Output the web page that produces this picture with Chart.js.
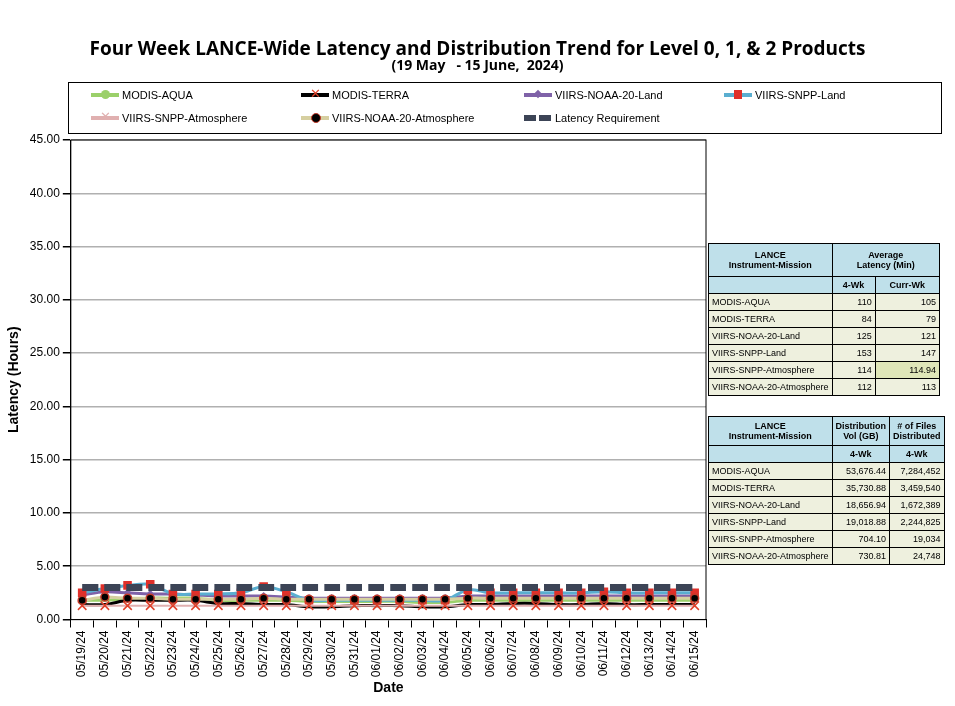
<!DOCTYPE html>
<html><head><meta charset="utf-8">
<script src="https://cdn.jsdelivr.net/npm/chart.js@4"></script>
<style>
body{margin:0;width:955px;height:706px;background:#fff;font-family:Calibri,Carlito,"Liberation Sans",sans-serif;position:relative;overflow:hidden}
#c{position:absolute;left:0;top:0}
.t1{position:absolute;top:35px;left:0;width:955px;text-align:center;font:bold 19px "Open Sans",sans-serif;}
.t2{position:absolute;top:55px;left:0;width:955px;text-align:center;font:bold 14px "Open Sans",sans-serif;}
#leg{position:absolute;left:68px;top:82px;width:872px;height:50px;border:1px solid #000;font:11px "Liberation Sans",sans-serif}
.li{position:absolute;display:flex;align-items:center}
.sw{width:28px;height:4px;margin-right:3px;position:relative}
table{position:absolute;border-collapse:collapse;font:9px "Liberation Sans Narrow","Liberation Sans",sans-serif;white-space:nowrap}
td{border:1px solid #000;padding:1px 3px;height:14px;background:#eef0de}
td.h{background:#bfe0ea;text-align:center;font-weight:bold}
td.n{text-align:right}
</style></head><body>
<canvas id="c" width="955" height="706"></canvas>
<div class="t1">Four Week LANCE-Wide Latency and Distribution Trend for Level 0, 1, &amp; 2 Products</div>
<div class="t2">(19 May &nbsp; - 15 June, &nbsp;2024)</div>
<div id="leg"></div>
<table id="t1" style="left:708px;top:243px;width:232px"></table>
<table id="t2" style="left:708px;top:416px;width:232px"></table>
<script>
const dates=["05/19/24","05/20/24","05/21/24","05/22/24","05/23/24","05/24/24","05/25/24","05/26/24","05/27/24","05/28/24","05/29/24","05/30/24","05/31/24","06/01/24","06/02/24","06/03/24","06/04/24","06/05/24","06/06/24","06/07/24","06/08/24","06/09/24","06/10/24","06/11/24","06/12/24","06/13/24","06/14/24","06/15/24"];
const modisAqua=[1.8,1.8,1.9,2.0,2.0,2.0,1.8,1.8,1.8,1.8,1.7,1.7,1.7,1.7,1.7,1.6,1.6,1.8,1.8,1.8,1.8,1.8,1.8,1.8,1.8,1.8,1.8,1.8];
const modisTerra=[1.4,1.4,1.8,1.8,1.8,1.8,1.5,1.5,1.4,1.4,1.2,1.2,1.3,1.3,1.3,1.2,1.2,1.4,1.4,1.5,1.5,1.4,1.4,1.5,1.4,1.4,1.4,1.4];
const noaa20Land=[2.3,2.6,2.5,2.4,2.4,2.3,2.2,2.2,2.2,2.1,2.0,2.0,2.0,2.0,2.0,2.0,2.0,2.2,2.2,2.2,2.2,2.2,2.2,2.2,2.2,2.2,2.2,2.2];
const snppLand=[2.5,2.9,3.2,3.3,2.4,2.4,2.4,2.5,3.1,2.6,1.8,1.8,1.8,1.8,1.8,1.8,1.8,2.8,2.5,2.5,2.5,2.5,2.5,2.6,2.5,2.5,2.5,2.5];
const snppAtmos=[1.3,1.3,1.3,1.3,1.3,1.3,1.3,1.3,1.3,1.3,1.3,1.3,1.3,1.3,1.3,1.3,1.3,1.3,1.3,1.3,1.3,1.3,1.3,1.3,1.3,1.3,1.3,1.3];
const noaa20Atmos=[1.8,2.1,2.0,2.0,1.9,1.9,1.9,1.9,2.0,1.9,1.9,1.9,1.9,1.9,1.9,1.9,1.9,2.0,2.0,2.0,2.0,2.0,2.0,2.0,2.0,2.0,2.0,2.0];
const requirement=dates.map(()=>3.0);
const yTicks=[0,5,10,15,20,25,30,35,40,45];
const latRows=[["MODIS-AQUA","110","105"],["MODIS-TERRA","84","79"],["VIIRS-NOAA-20-Land","125","121"],["VIIRS-SNPP-Land","153","147"],["VIIRS-SNPP-Atmosphere","114","114.94"],["VIIRS-NOAA-20-Atmosphere","112","113"]];
const distRows=[["MODIS-AQUA","53,676.44","7,284,452"],["MODIS-TERRA","35,730.88","3,459,540"],["VIIRS-NOAA-20-Land","18,656.94","1,672,389"],["VIIRS-SNPP-Land","19,018.88","2,244,825"],["VIIRS-SNPP-Atmosphere","704.10","19,034"],["VIIRS-NOAA-20-Atmosphere","730.81","24,748"]];

const series=[
 {label:"MODIS-AQUA",data:modisAqua,borderColor:"#9bd06a",pointStyle:"circle",pointBackgroundColor:"#9bd06a",pointBorderColor:"#9bd06a",pointRadius:0,w:3},
 {label:"MODIS-TERRA",data:modisTerra,borderColor:"#000",pointStyle:"cross",pointBorderColor:"#e0402a",pointRadius:0,w:3},
 {label:"VIIRS-NOAA-20-Land",data:noaa20Land,borderColor:"#7f62a8",pointStyle:"rectRot",pointBackgroundColor:"#7f62a8",pointBorderColor:"#7f62a8",pointRadius:3,w:3},
 {label:"VIIRS-SNPP-Land",data:snppLand,borderColor:"#5aaed0",pointStyle:"rect",pointBackgroundColor:"#e0302a",pointBorderColor:"#e0302a",pointRadius:5,w:3},
 {label:"VIIRS-SNPP-Atmosphere",data:snppAtmos,borderColor:"#e0b0b0",pointStyle:"crossRot",pointBorderColor:"#e0402a",pointRadius:6,w:2},
 {label:"VIIRS-NOAA-20-Atmosphere",data:noaa20Atmos,borderColor:"#d6cfa0",pointStyle:"circle",pointBackgroundColor:"#000",pointBorderColor:"#c23a2a",pointRadius:4,w:3},
 {label:"Latency Requirement",data:requirement,borderColor:"#3c4456",pointRadius:0,w:7,dash:[16,6]}
];
const datasets=series.map(s=>({label:s.label,data:s.data,borderColor:s.borderColor,borderWidth:s.w,borderDash:s.dash||[],pointStyle:s.pointStyle,pointRadius:s.pointRadius,pointBackgroundColor:s.pointBackgroundColor,pointBorderColor:s.pointBorderColor,pointBorderWidth:1.5,tension:0.3,fill:false}));
datasets.reverse();

const border={id:'b',afterDraw(c){const a=c.chartArea,x=c.ctx;x.save();x.strokeStyle='#000';x.lineWidth=1;x.strokeRect(a.left,a.top,a.right-a.left,a.bottom-a.top);x.restore();}};
new Chart(document.getElementById('c'),{type:'line',data:{labels:dates,datasets},
options:{responsive:false,animation:false,
 layout:{padding:{top:140,right:249,left:2,bottom:9}},
 plugins:{legend:{display:false},tooltip:{enabled:false}},
 scales:{
  x:{offset:true,grid:{display:true,drawOnChartArea:false,offset:true,tickColor:'#000'},border:{color:'#000'},ticks:{color:'#000',font:{size:12,family:'Liberation Sans'},maxRotation:90,minRotation:90,autoSkip:false},
     title:{display:true,text:'Date',color:'#000',font:{size:14,weight:'bold',family:'Liberation Sans'},padding:0}},
  y:{min:0,max:45,afterBuildTicks:ax=>{ax.ticks=yTicks.map(v=>({value:v}));},
     grid:{color:'#b0b0b0',lineWidth:1.5,drawTicks:true,tickColor:'#000'},border:{color:'#000'},
     ticks:{color:'#000',font:{size:12,family:'Liberation Sans'},callback:v=>v.toFixed(2)},
     title:{display:true,text:'Latency (Hours)',color:'#000',font:{size:14,weight:'bold',family:'Liberation Sans'}}}
 }},plugins:[border]});

const leg=document.getElementById('leg');
const pos=[[22,6],[232,6],[455,6],[655,6],[22,29],[232,29],[455,29]];
series.forEach((s,i)=>{const d=document.createElement('div');d.className='li';d.style.left=pos[i][0]+'px';d.style.top=pos[i][1]+'px';
 let mk='';
 if(s.label==="MODIS-AQUA")mk='<span style="position:absolute;left:10px;top:-3px;width:9px;height:9px;border-radius:50%;background:#9bd06a"></span>';
 if(s.label==="MODIS-TERRA")mk='<span style="position:absolute;left:9px;top:-7px;color:#e0402a;font-size:13px">✕</span>';
 if(s.label==="VIIRS-NOAA-20-Land")mk='<span style="position:absolute;left:11px;top:-2px;width:6px;height:6px;transform:rotate(45deg);background:#7f62a8"></span>';
 if(s.label==="VIIRS-SNPP-Land")mk='<span style="position:absolute;left:10px;top:-3px;width:8px;height:9px;background:#e0302a"></span>';
 if(s.label==="VIIRS-SNPP-Atmosphere")mk='<span style="position:absolute;left:9px;top:-7px;color:#e0b0b0;font-size:13px">✕</span>';
 if(s.label==="VIIRS-NOAA-20-Atmosphere")mk='<span style="position:absolute;left:10px;top:-3px;width:8px;height:8px;border-radius:50%;background:#000;border:1px solid #c23a2a"></span>';
 const bg=s.dash?'repeating-linear-gradient(90deg,#3c4456 0 12px,transparent 12px 15px)':s.borderColor;
 d.innerHTML='<div class="sw" style="background:'+bg+';height:'+(s.dash?6:4)+'px">'+mk+'</div>'+s.label;leg.appendChild(d);});

const t1=document.getElementById('t1');
t1.innerHTML='<tr><td class="h" rowspan="2" style="width:110px;height:30px">LANCE<br>Instrument-Mission</td><td class="h" colspan="2">Average<br>Latency (Min)</td></tr>'+
 '<tr></tr><tr><td class="h"></td><td class="h">4-Wk</td><td class="h">Curr-Wk</td></tr>'+
 latRows.map(r=>'<tr><td>'+r[0]+'</td><td class="n">'+r[1]+'</td><td class="n"'+(r[2]==="114.94"?' style="background:#dfe6b8"':'')+'>'+r[2]+'</td></tr>').join('');
const t2=document.getElementById('t2');
t2.innerHTML='<tr><td class="h" style="width:110px;height:26px">LANCE<br>Instrument-Mission</td><td class="h">Distribution<br>Vol (GB)</td><td class="h">#&nbsp;of Files<br>Distributed</td></tr>'+
 '<tr><td class="h"></td><td class="h">4-Wk</td><td class="h">4-Wk</td></tr>'+
 distRows.map(r=>'<tr><td>'+r[0]+'</td><td class="n">'+r[1]+'</td><td class="n">'+r[2]+'</td></tr>').join('');
</script></body></html>
